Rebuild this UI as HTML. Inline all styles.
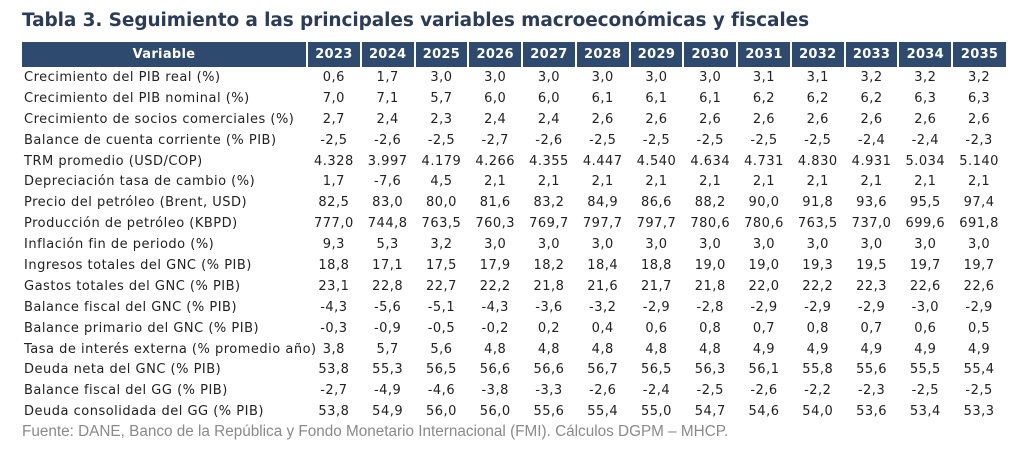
<!DOCTYPE html>
<html><head><meta charset="utf-8"><style>
body{margin:0;width:1024px;height:455px;background:#fff;position:relative;overflow:hidden;font-family:"DejaVu Sans","Liberation Sans",sans-serif;}
#title{position:absolute;left:22px;top:10px;font-size:18.5px;font-weight:bold;color:#2b3c59;white-space:nowrap;letter-spacing:-0.1px}
table{position:absolute;left:22px;top:42px;border-collapse:collapse;table-layout:fixed;width:984px;font-size:13px;letter-spacing:0.5px;color:#222}
th{background:#2e4a6e;color:#fff;font-weight:bold;height:25px;padding:0;border-left:2px solid #fff;text-align:center;letter-spacing:0.3px}
th:first-child{border-left:none}
td{height:20.9px;padding:0;text-align:center;white-space:nowrap}
td:first-child{text-align:left;padding-left:2px}
#foot{position:absolute;left:22px;top:423px;font-family:"Liberation Sans",sans-serif;font-size:15.3px;color:#8a8a8a;white-space:nowrap}
</style></head><body>
<div id="title">Tabla 3. Seguimiento a las principales variables macroeconómicas y fiscales</div>
<table>
<colgroup><col style="width:285px"><col span="13" style="width:53.77px"></colgroup>
<thead><tr><th>Variable</th><th>2023</th><th>2024</th><th>2025</th><th>2026</th><th>2027</th><th>2028</th><th>2029</th><th>2030</th><th>2031</th><th>2032</th><th>2033</th><th>2034</th><th>2035</th></tr></thead>
<tbody id="tb"></tbody></table>
<div id="foot">Fuente: DANE, Banco de la República y Fondo Monetario Internacional (FMI). Cálculos DGPM – MHCP.</div>
<script>
const rows=[
["Crecimiento del PIB real (%)","0,6 1,7 3,0 3,0 3,0 3,0 3,0 3,0 3,1 3,1 3,2 3,2 3,2"],
["Crecimiento del PIB nominal (%)","7,0 7,1 5,7 6,0 6,0 6,1 6,1 6,1 6,2 6,2 6,2 6,3 6,3"],
["Crecimiento de socios comerciales (%)","2,7 2,4 2,3 2,4 2,4 2,6 2,6 2,6 2,6 2,6 2,6 2,6 2,6"],
["Balance de cuenta corriente (% PIB)","-2,5 -2,6 -2,5 -2,7 -2,6 -2,5 -2,5 -2,5 -2,5 -2,5 -2,4 -2,4 -2,3"],
["TRM promedio (USD/COP)","4.328 3.997 4.179 4.266 4.355 4.447 4.540 4.634 4.731 4.830 4.931 5.034 5.140"],
["Depreciación tasa de cambio (%)","1,7 -7,6 4,5 2,1 2,1 2,1 2,1 2,1 2,1 2,1 2,1 2,1 2,1"],
["Precio del petróleo (Brent, USD)","82,5 83,0 80,0 81,6 83,2 84,9 86,6 88,2 90,0 91,8 93,6 95,5 97,4"],
["Producción de petróleo (KBPD)","777,0 744,8 763,5 760,3 769,7 797,7 797,7 780,6 780,6 763,5 737,0 699,6 691,8"],
["Inflación fin de periodo (%)","9,3 5,3 3,2 3,0 3,0 3,0 3,0 3,0 3,0 3,0 3,0 3,0 3,0"],
["Ingresos totales del GNC (% PIB)","18,8 17,1 17,5 17,9 18,2 18,4 18,8 19,0 19,0 19,3 19,5 19,7 19,7"],
["Gastos totales del GNC (% PIB)","23,1 22,8 22,7 22,2 21,8 21,6 21,7 21,8 22,0 22,2 22,3 22,6 22,6"],
["Balance fiscal del GNC (% PIB)","-4,3 -5,6 -5,1 -4,3 -3,6 -3,2 -2,9 -2,8 -2,9 -2,9 -2,9 -3,0 -2,9"],
["Balance primario del GNC (% PIB)","-0,3 -0,9 -0,5 -0,2 0,2 0,4 0,6 0,8 0,7 0,8 0,7 0,6 0,5"],
["Tasa de interés externa (% promedio año)","3,8 5,7 5,6 4,8 4,8 4,8 4,8 4,8 4,9 4,9 4,9 4,9 4,9"],
["Deuda neta del GNC (% PIB)","53,8 55,3 56,5 56,6 56,6 56,7 56,5 56,3 56,1 55,8 55,6 55,5 55,4"],
["Balance fiscal del GG (% PIB)","-2,7 -4,9 -4,6 -3,8 -3,3 -2,6 -2,4 -2,5 -2,6 -2,2 -2,3 -2,5 -2,5"],
["Deuda consolidada del GG (% PIB)","53,8 54,9 56,0 56,0 55,6 55,4 55,0 54,7 54,6 54,0 53,6 53,4 53,3"]];
const tb=document.getElementById('tb');
rows.forEach(r=>{
const tr=document.createElement('tr');


const c=document.createElement('td');c.textContent=r[0];


tr.appendChild(c);
r[1].split(' ').forEach(v=>{const d=document.createElement('td');d.textContent=v;


tr.appendChild(d);});
tb.appendChild(tr);});
</script>
</body></html>
